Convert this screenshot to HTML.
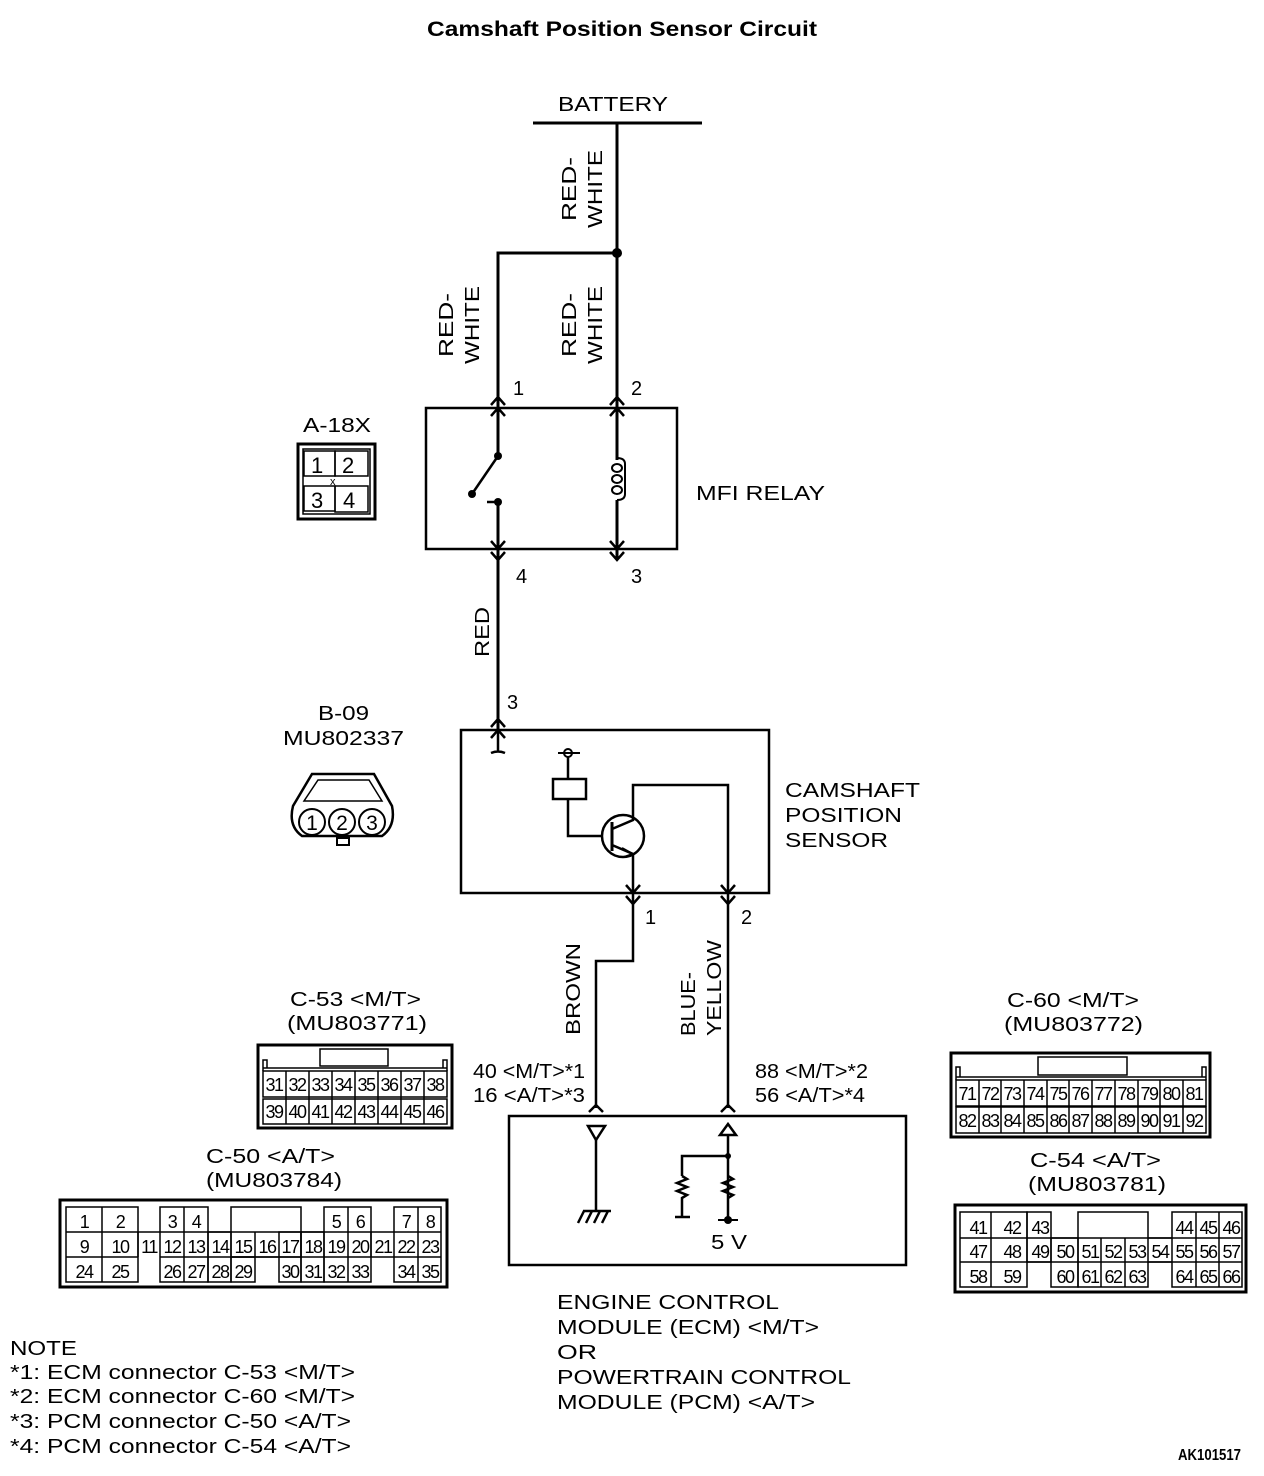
<!DOCTYPE html>
<html><head><meta charset="utf-8"><style>
html,body{margin:0;padding:0;background:#fff}
svg{display:block}
text{font-family:"Liberation Sans",sans-serif;fill:#000}
</style></head><body>
<svg width="1264" height="1476" viewBox="0 0 1264 1476" xmlns="http://www.w3.org/2000/svg">
<g font-size="20" lengthAdjust="spacingAndGlyphs">
<text x="427" y="36" font-size="21" font-weight="bold" textLength="390" lengthAdjust="spacingAndGlyphs">Camshaft Position Sensor Circuit</text>
<text x="558" y="111" textLength="110" lengthAdjust="spacingAndGlyphs">BATTERY</text>
</g>
<g stroke="#000" stroke-width="3" fill="none">
<line x1="533" y1="123" x2="702" y2="123"/>
<line x1="617" y1="123" x2="617" y2="460"/>
<polyline points="617,253 498,253 498,456"/>
<rect x="426" y="408" width="251" height="141" stroke-width="2.5"/>
<line x1="498" y1="502" x2="498" y2="730"/>
<line x1="472" y1="494" x2="498" y2="456" stroke-width="2.5"/>
<line x1="617" y1="500" x2="617" y2="560"/>
<path d="M617,458 q8,0 8,6 l0,30 q0,6 -8,6" stroke-width="2"/>
<ellipse cx="617" cy="468" rx="5" ry="4" stroke-width="2"/>
<ellipse cx="617" cy="479" rx="5" ry="4" stroke-width="2"/>
<ellipse cx="617" cy="490" rx="5" ry="4" stroke-width="2"/>
<polyline points="491,405 498,397 505,405" stroke-width="2.5"/>
<polyline points="491,416 498,408 505,416" stroke-width="2.5"/>
<polyline points="610,405 617,397 624,405" stroke-width="2.5"/>
<polyline points="610,416 617,408 624,416" stroke-width="2.5"/>
<polyline points="491,541 498,549 505,541" stroke-width="2.5"/>
<polyline points="491,552 498,560 505,552" stroke-width="2.5"/>
<polyline points="610,541 617,549 624,541" stroke-width="2.5"/>
<polyline points="610,552 617,560 624,552" stroke-width="2.5"/>
<rect x="461" y="730" width="308" height="163" stroke-width="2.5"/>
<polyline points="491,727 498,719 505,727" stroke-width="2.5"/>
<polyline points="491,738 498,730 505,738" stroke-width="2.5"/>
<path d="M498,730 L498,752 M491,753 q7,-3 14,0" stroke-width="2.5"/>
<line x1="558" y1="753" x2="580" y2="753" stroke-width="2"/>
<line x1="568" y1="756" x2="568" y2="779" stroke-width="2.5"/>
<rect x="553" y="779" width="33" height="20" stroke-width="2.5"/>
<polyline points="568,799 568,836 603,836" stroke-width="2.5"/>
<circle cx="623" cy="836" r="21" stroke-width="2.5"/>
<line x1="612" y1="822" x2="612" y2="851" stroke-width="3"/>
<polyline points="612,829 633,820 633,785 728,785 728,1108" stroke-width="2.5"/>
<polyline points="612,845 633,854 633,961 596,961 596,1108" stroke-width="2.5"/>
<polyline points="622,848 633,854 624,857" stroke-width="2"/>
<polyline points="626,885 633,893 640,885" stroke-width="2.5"/>
<polyline points="626,896 633,904 640,896" stroke-width="2.5"/>
<polyline points="721,885 728,893 735,885" stroke-width="2.5"/>
<polyline points="721,896 728,904 735,896" stroke-width="2.5"/>
<rect x="509" y="1116" width="397" height="149" stroke-width="2.5"/>
<polyline points="589,1112 596,1105 603,1112" stroke-width="2.5"/>
<polyline points="721,1112 728,1105 735,1112" stroke-width="2.5"/>
<polygon points="588,1126 605,1126 596,1140" stroke-width="2.5"/>
<line x1="596" y1="1140" x2="596" y2="1211" stroke-width="2.5"/>
<line x1="583" y1="1211" x2="611" y2="1211" stroke-width="2.5"/>
<path d="M584,1211 l-6,12 M592,1211 l-6,12 M600,1211 l-6,12 M608,1211 l-6,12" stroke-width="2.5"/>
<polygon points="728,1124 720,1135 736,1135" stroke-width="2.5"/>
<line x1="728" y1="1135" x2="728" y2="1220" stroke-width="2.5"/>
<polyline points="728,1156 682,1156 682,1176" stroke-width="2.5"/>
<path d="M682,1176 l5,3 -10,4 10,4 -10,4 10,4 -5,3 L682,1217 M675,1217 L690,1217" stroke-width="2.5"/>
<path d="M728,1176 l5,3 -10,4 10,4 -10,4 10,4 -5,3" stroke-width="2.5"/>
<line x1="718" y1="1220" x2="738" y2="1220" stroke-width="2"/>
</g>
<circle cx="617" cy="253" r="5"/>
<circle cx="498" cy="456" r="4"/>
<circle cx="472" cy="494" r="4"/>
<circle cx="498" cy="502" r="4"/>
<line x1="487" y1="502" x2="495" y2="502" stroke="#000" stroke-width="2.5"/>
<circle cx="568" cy="753" r="4" fill="none" stroke="#000" stroke-width="2"/>
<circle cx="728" cy="1156" r="3"/>
<circle cx="728" cy="1220" r="4"/>
<g font-size="20">
<text transform="translate(576,189) rotate(-90)" text-anchor="middle" textLength="64" lengthAdjust="spacingAndGlyphs">RED-</text>
<text transform="translate(602,189) rotate(-90)" text-anchor="middle" textLength="78" lengthAdjust="spacingAndGlyphs">WHITE</text>
<text transform="translate(453,325) rotate(-90)" text-anchor="middle" textLength="64" lengthAdjust="spacingAndGlyphs">RED-</text>
<text transform="translate(479,325) rotate(-90)" text-anchor="middle" textLength="78" lengthAdjust="spacingAndGlyphs">WHITE</text>
<text transform="translate(576,325) rotate(-90)" text-anchor="middle" textLength="64" lengthAdjust="spacingAndGlyphs">RED-</text>
<text transform="translate(602,325) rotate(-90)" text-anchor="middle" textLength="78" lengthAdjust="spacingAndGlyphs">WHITE</text>
<text transform="translate(489,632) rotate(-90)" text-anchor="middle" textLength="50" lengthAdjust="spacingAndGlyphs">RED</text>
<text transform="translate(580,989) rotate(-90)" text-anchor="middle" textLength="92" lengthAdjust="spacingAndGlyphs">BROWN</text>
<text transform="translate(695,1004) rotate(-90)" text-anchor="middle" textLength="64" lengthAdjust="spacingAndGlyphs">BLUE-</text>
<text transform="translate(721,988) rotate(-90)" text-anchor="middle" textLength="96" lengthAdjust="spacingAndGlyphs">YELLOW</text>
<text x="513" y="395">1</text>
<text x="631" y="395">2</text>
<text x="516" y="583">4</text>
<text x="631" y="583">3</text>
<text x="507" y="709">3</text>
<text x="645" y="924">1</text>
<text x="741" y="924">2</text>
<text x="696" y="500" textLength="129" lengthAdjust="spacingAndGlyphs">MFI RELAY</text>
<text x="785" y="797" textLength="135" lengthAdjust="spacingAndGlyphs">CAMSHAFT</text>
<text x="785" y="822" textLength="117" lengthAdjust="spacingAndGlyphs">POSITION</text>
<text x="785" y="847" textLength="103" lengthAdjust="spacingAndGlyphs">SENSOR</text>
<text x="473" y="1078" textLength="112" lengthAdjust="spacingAndGlyphs">40 &lt;M/T&gt;*1</text>
<text x="473" y="1102" textLength="112" lengthAdjust="spacingAndGlyphs">16 &lt;A/T&gt;*3</text>
<text x="755" y="1078" textLength="113" lengthAdjust="spacingAndGlyphs">88 &lt;M/T&gt;*2</text>
<text x="755" y="1102" textLength="110" lengthAdjust="spacingAndGlyphs">56 &lt;A/T&gt;*4</text>
<text x="711" y="1249" textLength="36" lengthAdjust="spacingAndGlyphs">5 V</text>
<text x="557" y="1309" textLength="222" lengthAdjust="spacingAndGlyphs">ENGINE CONTROL</text>
<text x="557" y="1334" textLength="262" lengthAdjust="spacingAndGlyphs">MODULE (ECM) &lt;M/T&gt;</text>
<text x="557" y="1359" textLength="40" lengthAdjust="spacingAndGlyphs">OR</text>
<text x="557" y="1384" textLength="294" lengthAdjust="spacingAndGlyphs">POWERTRAIN CONTROL</text>
<text x="557" y="1409" textLength="258" lengthAdjust="spacingAndGlyphs">MODULE (PCM) &lt;A/T&gt;</text>
<text x="10" y="1355" textLength="67" lengthAdjust="spacingAndGlyphs">NOTE</text>
<text x="10" y="1379" textLength="345" lengthAdjust="spacingAndGlyphs">*1: ECM connector C-53 &lt;M/T&gt;</text>
<text x="10" y="1403" textLength="345" lengthAdjust="spacingAndGlyphs">*2: ECM connector C-60 &lt;M/T&gt;</text>
<text x="10" y="1428" textLength="341" lengthAdjust="spacingAndGlyphs">*3: PCM connector C-50 &lt;A/T&gt;</text>
<text x="10" y="1453" textLength="341" lengthAdjust="spacingAndGlyphs">*4: PCM connector C-54 &lt;A/T&gt;</text>
<text x="1178" y="1460" font-size="16" font-weight="bold" textLength="63" lengthAdjust="spacingAndGlyphs">AK101517</text>
<text x="303" y="432" textLength="68" lengthAdjust="spacingAndGlyphs">A-18X</text>
<text x="318" y="720" textLength="51" lengthAdjust="spacingAndGlyphs">B-09</text>
<text x="283" y="745" textLength="121" lengthAdjust="spacingAndGlyphs">MU802337</text>
<text x="290" y="1006" textLength="131" lengthAdjust="spacingAndGlyphs">C-53 &lt;M/T&gt;</text>
<text x="287" y="1030" textLength="140" lengthAdjust="spacingAndGlyphs">(MU803771)</text>
<text x="206" y="1163" textLength="129" lengthAdjust="spacingAndGlyphs">C-50 &lt;A/T&gt;</text>
<text x="206" y="1187" textLength="136" lengthAdjust="spacingAndGlyphs">(MU803784)</text>
<text x="1007" y="1007" textLength="132" lengthAdjust="spacingAndGlyphs">C-60 &lt;M/T&gt;</text>
<text x="1004" y="1031" textLength="139" lengthAdjust="spacingAndGlyphs">(MU803772)</text>
<text x="1030" y="1167" textLength="131" lengthAdjust="spacingAndGlyphs">C-54 &lt;A/T&gt;</text>
<text x="1028" y="1191" textLength="138" lengthAdjust="spacingAndGlyphs">(MU803781)</text>
</g>
<g stroke="#000" fill="none">
<rect x="298" y="444" width="77" height="75" stroke-width="3"/>
<rect x="303" y="449" width="67" height="65" stroke-width="1.5"/>
<rect x="304" y="451" width="31" height="25" stroke-width="1.5"/>
<rect x="335" y="451" width="33" height="25" stroke-width="1.5"/>
<rect x="304" y="486" width="31" height="25" stroke-width="1.5"/>
<rect x="335" y="486" width="33" height="26" stroke-width="1.5"/>
</g>
<g font-size="22"><text x="311" y="473">1</text><text x="342" y="473">2</text><text x="311" y="508">3</text><text x="343" y="508">4</text><text x="330" y="485" font-size="11">x</text></g>
<g stroke="#000" fill="none" stroke-width="2.5">
<path d="M312,774 L374,774 L392,806 Q396,826 382,836 L302,836 Q288,826 293,806 Z"/>
<path d="M318,780 L369,780 L382,801 L304,801 Z" stroke-width="1.5"/>
<rect x="337" y="838" width="12" height="7" stroke-width="2"/>
<circle cx="312" cy="822" r="13" stroke-width="2"/>
<circle cx="342" cy="822" r="13" stroke-width="2"/>
<circle cx="372" cy="822" r="13" stroke-width="2"/>
</g>
<g font-size="21" text-anchor="middle"><text x="312" y="830">1</text><text x="342" y="830">2</text><text x="372" y="830">3</text></g>
<g stroke="#000" fill="none" stroke-width="1.5">
<rect x="258" y="1045" width="194" height="83" stroke-width="3"/>
<rect x="320" y="1049" width="68" height="17"/>
<polyline points="263,1071 263,1060 267,1060 267,1068"/>
<polyline points="447,1071 447,1060 443,1060 443,1068"/>
<line x1="263" y1="1068" x2="447" y2="1068"/>
<rect x="263" y="1071" width="184" height="26"/>
<rect x="263" y="1099" width="184" height="25"/>
<path d="M286,1071v53M309,1071v53M332,1071v53M355,1071v53M378,1071v53M401,1071v53M424,1071v53"/>
</g>
<g font-size="18" letter-spacing="-1.5" text-anchor="middle">
<text x="274" y="1091">31</text><text x="297" y="1091">32</text><text x="320" y="1091">33</text><text x="343" y="1091">34</text><text x="366" y="1091">35</text><text x="389" y="1091">36</text><text x="412" y="1091">37</text><text x="435" y="1091">38</text>
<text x="274" y="1118">39</text><text x="297" y="1118">40</text><text x="320" y="1118">41</text><text x="343" y="1118">42</text><text x="366" y="1118">43</text><text x="389" y="1118">44</text><text x="412" y="1118">45</text><text x="435" y="1118">46</text>
</g>
<g stroke="#000" fill="none" stroke-width="1.5">
<rect x="951" y="1053" width="259" height="84" stroke-width="3"/>
<rect x="1038" y="1057" width="89" height="18"/>
<polyline points="956,1080 956,1067 960,1067 960,1077"/>
<polyline points="1206,1080 1206,1067 1202,1067 1202,1077"/>
<line x1="956" y1="1077" x2="1206" y2="1077"/>
<rect x="956" y="1080" width="250" height="26"/>
<rect x="956" y="1107" width="250" height="26"/>
<path d="M979,1080v53M1001,1080v53M1024,1080v53M1047,1080v53M1069,1080v53M1092,1080v53M1115,1080v53M1138,1080v53M1160,1080v53M1183,1080v53"/>
</g>
<g font-size="18" letter-spacing="-1.5" text-anchor="middle">
<text x="967" y="1100">71</text><text x="990" y="1100">72</text><text x="1012" y="1100">73</text><text x="1035" y="1100">74</text><text x="1058" y="1100">75</text><text x="1080" y="1100">76</text><text x="1103" y="1100">77</text><text x="1126" y="1100">78</text><text x="1149" y="1100">79</text><text x="1171" y="1100">80</text><text x="1194" y="1100">81</text>
<text x="967" y="1127">82</text><text x="990" y="1127">83</text><text x="1012" y="1127">84</text><text x="1035" y="1127">85</text><text x="1058" y="1127">86</text><text x="1080" y="1127">87</text><text x="1103" y="1127">88</text><text x="1126" y="1127">89</text><text x="1149" y="1127">90</text><text x="1171" y="1127">91</text><text x="1194" y="1127">92</text>
</g>
<g stroke="#000" fill="none" stroke-width="1.5">
<rect x="60" y="1200" width="387" height="87" stroke-width="3"/>
<rect x="66" y="1207" width="72" height="75"/>
<line x1="102" y1="1207" x2="102" y2="1282"/>
<line x1="66" y1="1232" x2="441" y2="1232"/>
<line x1="66" y1="1257" x2="138" y2="1257"/>
<rect x="160" y="1207" width="48" height="75"/>
<line x1="184" y1="1207" x2="184" y2="1282"/>
<line x1="138" y1="1232" x2="138" y2="1257"/>
<rect x="208" y="1232" width="23" height="50"/>
<rect x="231" y="1207" width="70" height="50"/>
<rect x="231" y="1257" width="24" height="25"/>
<line x1="255" y1="1232" x2="255" y2="1257"/>
<rect x="279" y="1232" width="22" height="50"/>
<rect x="301" y="1232" width="23" height="50"/>
<rect x="324" y="1207" width="47" height="75"/>
<line x1="348" y1="1207" x2="348" y2="1282"/>
<line x1="371" y1="1232" x2="371" y2="1257"/>
<rect x="394" y="1207" width="47" height="75"/>
<line x1="418" y1="1207" x2="418" y2="1282"/>
<line x1="160" y1="1257" x2="441" y2="1257"/>
</g>
<g font-size="18" letter-spacing="-1.5" text-anchor="middle">
<text x="84" y="1228">1</text><text x="120" y="1228">2</text><text x="172" y="1228">3</text><text x="196" y="1228">4</text><text x="336" y="1228">5</text><text x="360" y="1228">6</text><text x="406" y="1228">7</text><text x="430" y="1228">8</text>
<text x="84" y="1253">9</text><text x="120" y="1253">10</text><text x="149" y="1253">11</text><text x="172" y="1253">12</text><text x="196" y="1253">13</text><text x="220" y="1253">14</text><text x="243" y="1253">15</text><text x="267" y="1253">16</text><text x="290" y="1253">17</text><text x="313" y="1253">18</text><text x="336" y="1253">19</text><text x="360" y="1253">20</text><text x="383" y="1253">21</text><text x="406" y="1253">22</text><text x="430" y="1253">23</text>
<text x="84" y="1278">24</text><text x="120" y="1278">25</text><text x="172" y="1278">26</text><text x="196" y="1278">27</text><text x="220" y="1278">28</text><text x="243" y="1278">29</text><text x="290" y="1278">30</text><text x="313" y="1278">31</text><text x="336" y="1278">32</text><text x="360" y="1278">33</text><text x="406" y="1278">34</text><text x="430" y="1278">35</text>
</g>
<g stroke="#000" fill="none" stroke-width="1.5">
<rect x="955" y="1205" width="291" height="87" stroke-width="3"/>
<rect x="960" y="1212" width="67" height="75"/>
<line x1="991" y1="1212" x2="991" y2="1287"/>
<line x1="960" y1="1238" x2="1242" y2="1238"/>
<line x1="960" y1="1262" x2="1242" y2="1262"/>
<rect x="1027" y="1212" width="24" height="50"/>
<rect x="1051" y="1238" width="27" height="49"/>
<rect x="1078" y="1212" width="70" height="75"/>
<line x1="1101" y1="1238" x2="1101" y2="1287"/>
<line x1="1125" y1="1238" x2="1125" y2="1287"/>
<line x1="1148" y1="1238" x2="1172" y2="1238"/>
<line x1="1172" y1="1262" x2="1148" y2="1262"/>
<rect x="1172" y="1212" width="70" height="75"/>
<line x1="1196" y1="1212" x2="1196" y2="1287"/>
<line x1="1219" y1="1212" x2="1219" y2="1287"/>
</g>
<g font-size="18" letter-spacing="-1.5" text-anchor="middle">
<text x="978" y="1234">41</text><text x="1012" y="1234">42</text><text x="1040" y="1234">43</text><text x="1184" y="1234">44</text><text x="1208" y="1234">45</text><text x="1231" y="1234">46</text>
<text x="978" y="1258">47</text><text x="1012" y="1258">48</text><text x="1040" y="1258">49</text><text x="1065" y="1258">50</text><text x="1090" y="1258">51</text><text x="1113" y="1258">52</text><text x="1137" y="1258">53</text><text x="1160" y="1258">54</text><text x="1184" y="1258">55</text><text x="1208" y="1258">56</text><text x="1231" y="1258">57</text>
<text x="978" y="1283">58</text><text x="1012" y="1283">59</text><text x="1065" y="1283">60</text><text x="1090" y="1283">61</text><text x="1113" y="1283">62</text><text x="1137" y="1283">63</text><text x="1184" y="1283">64</text><text x="1208" y="1283">65</text><text x="1231" y="1283">66</text>
</g>
</svg>
</body></html>
